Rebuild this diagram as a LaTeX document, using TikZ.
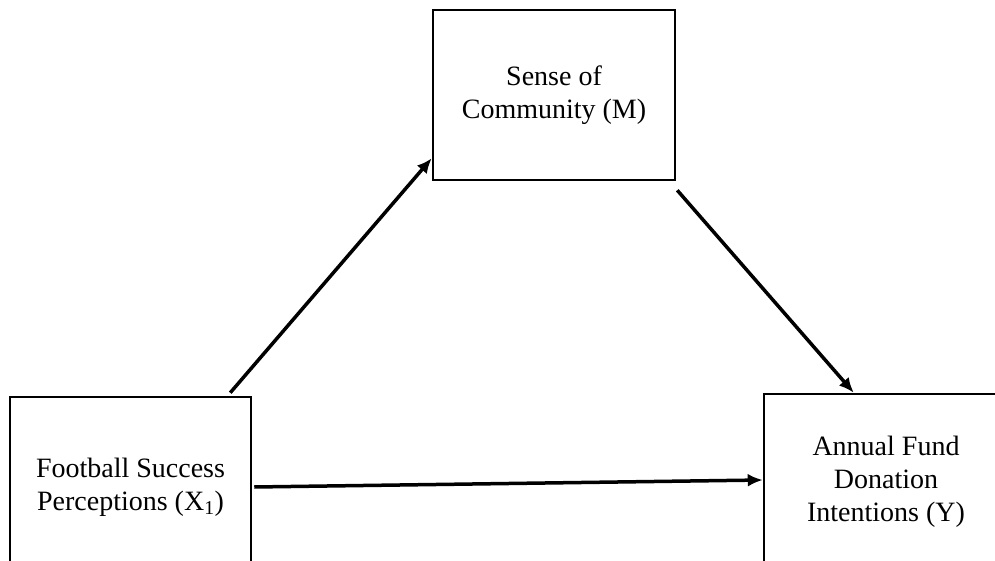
\documentclass[tikz,border=0pt]{standalone}
\usepackage{fontspec}
\setmainfont{Liberation Serif}
\usetikzlibrary{arrows.meta}
\tikzset{
	varbox/.style={draw, line width=2.5pt, align=center, font=\fontsize{28}{33}\selectfont},
	path/.style={line width=3.5pt, -{Latex[length=15pt,width=13pt]}}
}
\begin{document}
	\begin{tikzpicture}[x=1pt,y=-1pt]
		\useasboundingbox (0,0) rectangle (995,561);

		\node[varbox, minimum width=241pt, minimum height=180pt] (X) at (130.5,487) {Football Success\\Perceptions (X\textsubscript{1})};
		\node[varbox, minimum width=242pt, minimum height=170pt] (M) at (554,95) {Sense of\\Community (M)};
		\node[varbox, minimum width=244pt, minimum height=176pt] (Y) at (886,482) {Annual Fund\\Donation\\Intentions (Y)};

		\draw[path] ([xshift=-22pt,yshift=3pt]X.north east) -- ([yshift=23pt]M.south west);
		\draw[path] ([xshift=1pt,yshift=-9pt]M.south east) -- ([xshift=91pt]Y.north west);
		\draw[path] ([xshift=2pt]X.east) -- ([yshift=2pt]Y.west);
	\end{tikzpicture}
\end{document}
